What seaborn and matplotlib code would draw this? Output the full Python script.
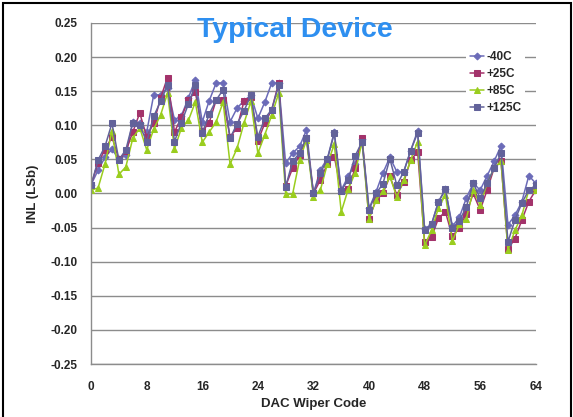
import numpy as np
import pandas as pd
import matplotlib
matplotlib.use("Agg")
import matplotlib.pyplot as plt
import seaborn as sns
from matplotlib.patches import Rectangle
from matplotlib.ticker import MultipleLocator

# DAC codes 0..64
codes = list(range(65))

inl_m40 = [0.013, 0.034, 0.053, 0.065, 0.050, 0.056, 0.105, 0.104, 0.090, 0.144,
           0.145, 0.155, 0.108, 0.114, 0.140, 0.167, 0.105, 0.136, 0.162, 0.162,
           0.105, 0.125, 0.136, 0.144, 0.110, 0.134, 0.162, 0.162, 0.044, 0.059,
           0.069, 0.093, 0.000, 0.035, 0.051, 0.090, 0.005, 0.025, 0.043, 0.080,
           -0.022, 0.002, 0.030, 0.053, 0.032, 0.032, 0.063, 0.092, -0.052, -0.045,
           -0.012, 0.006, -0.048, -0.035, -0.007, 0.015, 0.005, 0.026, 0.047, 0.070,
           -0.046, -0.032, -0.012, 0.026, 0.015]

inl_p25 = [0.013, 0.045, 0.064, 0.083, 0.050, 0.062, 0.090, 0.118, 0.083, 0.103,
           0.140, 0.170, 0.090, 0.112, 0.137, 0.149, 0.091, 0.104, 0.137, 0.137,
           0.083, 0.096, 0.135, 0.142, 0.077, 0.103, 0.123, 0.162, 0.011, 0.037,
           0.056, 0.082, 0.000, 0.020, 0.043, 0.054, 0.004, 0.006, 0.037, 0.082,
           -0.037, -0.010, 0.000, 0.025, -0.002, 0.017, 0.049, 0.061, -0.071, -0.064,
           -0.036, -0.027, -0.063, -0.050, -0.030, 0.000, -0.024, 0.005, 0.037, 0.047,
           -0.082, -0.066, -0.039, -0.012, 0.005]

inl_p85 = [0.005, 0.008, 0.043, 0.092, 0.028, 0.039, 0.081, 0.096, 0.064, 0.094,
           0.115, 0.147, 0.065, 0.096, 0.107, 0.134, 0.075, 0.090, 0.105, 0.134,
           0.043, 0.066, 0.103, 0.135, 0.059, 0.086, 0.115, 0.147, -0.001, -0.001,
           0.049, 0.078, -0.005, 0.005, 0.043, 0.072, -0.027, 0.006, 0.030, 0.076,
           -0.037, -0.010, 0.003, 0.025, -0.005, 0.020, 0.049, 0.076, -0.076, -0.054,
           -0.021, -0.002, -0.070, -0.045, -0.037, 0.005, -0.017, 0.015, 0.037, 0.047,
           -0.083, -0.054, -0.032, 0.005, 0.005]

inl_p125 = [0.012, 0.049, 0.069, 0.103, 0.049, 0.064, 0.104, 0.100, 0.076, 0.113,
            0.135, 0.159, 0.076, 0.104, 0.131, 0.159, 0.089, 0.116, 0.137, 0.152,
            0.081, 0.102, 0.121, 0.144, 0.083, 0.110, 0.123, 0.159, 0.010, 0.047,
            0.059, 0.082, 0.000, 0.030, 0.050, 0.088, 0.004, 0.020, 0.055, 0.076,
            -0.024, 0.000, 0.014, 0.051, 0.012, 0.032, 0.063, 0.089, -0.054, -0.045,
            -0.012, 0.006, -0.051, -0.040, -0.020, 0.015, -0.007, 0.015, 0.037, 0.059,
            -0.071, -0.039, -0.014, 0.005, 0.012]

series = ["-40C", "+25C", "+85C", "+125C"]
colors = {"-40C": "#6b6bb8", "+25C": "#a3336b", "+85C": "#9acd1e", "+125C": "#62629a"}
markers = {"-40C": "D", "+25C": "s", "+85C": "^", "+125C": "s"}
msizes = {"-40C": 3.5, "+25C": 5, "+85C": 5, "+125C": 5}

df = pd.concat([
    pd.DataFrame({"code": codes, "inl": vals, "temp": name})
    for name, vals in zip(series, [inl_m40, inl_p25, inl_p85, inl_p125])
])

sns.set_style("white")
plt.rcParams["font.family"] = ["Liberation Sans", "DejaVu Sans"]

fig = plt.figure(figsize=(5.73, 4.17), dpi=100)
ax = fig.add_axes([0.159, 0.127, 0.776, 0.818])

for name in series:
    sub = df[df["temp"] == name]
    sns.lineplot(data=sub, x="code", y="inl", ax=ax, color=colors[name],
                 marker=markers[name], markersize=msizes[name],
                 markeredgecolor=colors[name], linewidth=1.1, label=name)

ax.set_xlim(0, 64)
ax.set_ylim(-0.25, 0.25)
ax.xaxis.set_major_locator(MultipleLocator(8))
ax.xaxis.set_minor_locator(MultipleLocator(2))
ax.yaxis.set_major_locator(MultipleLocator(0.05))
ax.yaxis.set_major_formatter(matplotlib.ticker.FormatStrFormatter("%.2f"))
ax.grid(axis="y", color="#8c8c8c", linewidth=1)
ax.grid(axis="x", visible=False)
ax.set_axisbelow(True)

for s in ["top", "right"]:
    ax.spines[s].set_visible(False)
for s in ["left", "bottom"]:
    ax.spines[s].set_color("#8c8c8c")
    ax.spines[s].set_linewidth(1)

ax.tick_params(axis="both", which="both", direction="out", color="#8c8c8c")
ax.tick_params(axis="both", which="major", length=4, labelsize=8.5, pad=6)
ax.tick_params(axis="x", which="minor", length=3)
ax.tick_params(axis="x", which="major", pad=8)
for lbl in ax.get_xticklabels() + ax.get_yticklabels():
    lbl.set_fontweight("bold")

ax.set_xlabel("DAC Wiper Code", fontsize=9.5, fontweight="bold", labelpad=4)
ax.set_ylabel("INL (LSb)", fontsize=9.5, fontweight="bold", labelpad=8)

fig.text(0.515, 0.927, "Typical Device", ha="center", va="center",
         fontsize=20.5, fontweight="bold", color="#2e8ff0")

leg = ax.legend(loc="upper left", bbox_to_anchor=(0.83, 0.945), frameon=True,
                facecolor="white", edgecolor="none", framealpha=1,
                handlelength=1.2, handletextpad=0.25, labelspacing=0.42,
                borderpad=0.3, fontsize=8.5)
for t in leg.get_texts():
    t.set_fontweight("bold")

fig.patches.append(Rectangle((0.006, -0.01), 0.99, 1.003, transform=fig.transFigure,
                             fill=False, edgecolor="black", linewidth=1.5))

fig.savefig("out.png", dpi=100)
